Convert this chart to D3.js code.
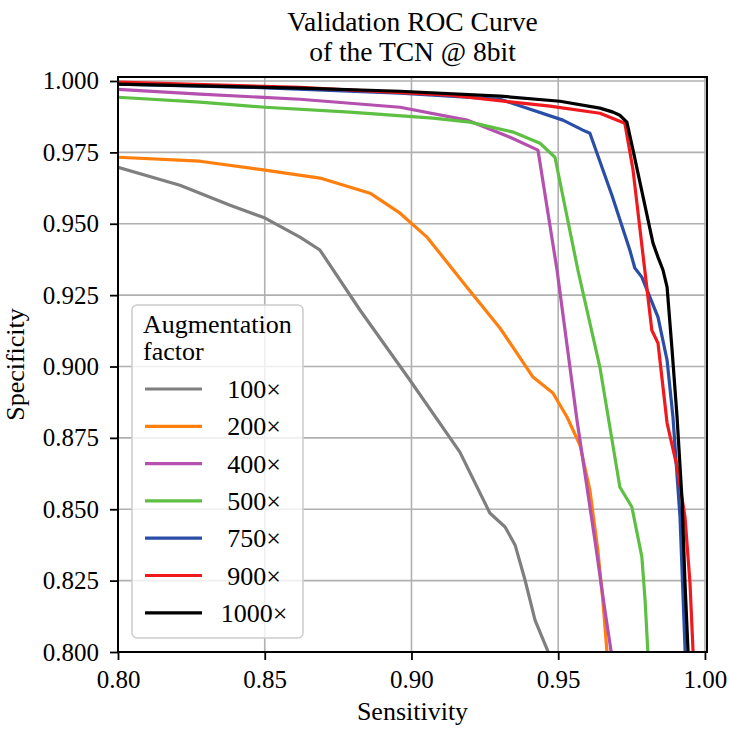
<!DOCTYPE html>
<html>
<head>
<meta charset="utf-8">
<script src="https://cdn.jsdelivr.net/npm/d3@7"></script>
<style>
  body { margin: 0; background: #fff; }
  svg text { font-family: "Liberation Serif", "Times New Roman", Times, serif !important; fill: #000; }
</style>
</head>
<body>
<svg width="729" height="732"></svg>
<script>
const width = 729,
      height = 732,
      margin = {top: 77, right: 22, bottom: 80, left: 118};

// tick positions
const xTicks = [0.80, 0.85, 0.90, 0.95, 1.00];
const yTicks = [0.800, 0.825, 0.850, 0.875, 0.900, 0.925, 0.950, 0.975, 1.000];

// legend names and colours
const factors = ['100×', '200×', '400×', '500×', '750×', '900×', '1000×'];
const colors  = ['#7f7f7f', '#ff7f0e', '#b450ae', '#5ec043', '#2a4ea6', '#f0191e', '#000000'];

// curve points [sensitivity, specificity]
const roc100 = [[0.800,0.9698],[0.8211,0.9635],[0.8382,0.9565],[0.8501,0.9520],[0.8620,0.9453],
  [0.8688,0.9408],[0.8825,0.9197],[0.8995,0.8952],[0.9165,0.8700],[0.9267,0.8487],[0.9319,0.8438],
  [0.9353,0.8375],[0.9387,0.8252],[0.9421,0.8112],[0.9470,0.7990]];
const roc200 = [[0.800,0.9733],[0.8279,0.9719],[0.8501,0.9688],[0.8688,0.9660],[0.8859,0.9607],
  [0.8961,0.9537],[0.9053,0.9453],[0.9189,0.9278],[0.9302,0.9134],[0.9414,0.8963],[0.9482,0.8907],
  [0.9530,0.8823],[0.9574,0.8725],[0.9608,0.8567],[0.9635,0.8357],[0.9652,0.8182],[0.9667,0.7990]];
const roc400 = [[0.800,0.9971],[0.8279,0.9954],[0.8620,0.9936],[0.8961,0.9908],[0.9189,0.9863],
  [0.9336,0.9803],[0.9431,0.9758],[0.9496,0.9338],[0.9564,0.8812],[0.9625,0.8392],[0.9659,0.8147],
  [0.9682,0.7990]];
const roc500 = [[0.800,0.9943],[0.8279,0.9926],[0.8501,0.9908],[0.8790,0.9891],[0.9073,0.9870],
  [0.9199,0.9856],[0.9346,0.9821],[0.9438,0.9782],[0.9489,0.9733],[0.9567,0.9338],[0.9642,0.8998],
  [0.9710,0.8578],[0.9751,0.8508],[0.9785,0.8333],[0.9796,0.8182],[0.9806,0.7990]];
const roc750 = [[0.800,0.9989],[0.8450,0.9978],[0.8961,0.9957],[0.9302,0.9936],[0.9516,0.9863],
  [0.9584,0.9828],[0.9608,0.9817],[0.9683,0.9600],[0.9744,0.9408],[0.9761,0.9345],[0.9785,0.9313],
  [0.9840,0.9173],[0.9871,0.9022],[0.9891,0.8823],[0.9915,0.8473],[0.9933,0.7990]];
const roc900 = [[0.800,0.9996],[0.8620,0.9978],[0.9131,0.9950],[0.9472,0.9912],[0.9642,0.9887],
  [0.9727,0.9852],[0.9755,0.9688],[0.9789,0.9390],[0.9819,0.9127],[0.9840,0.9082],[0.9871,0.8802],
  [0.9905,0.8648],[0.9932,0.8473],[0.9949,0.8242],[0.9960,0.7990]];
const roc1000 = [[0.800,0.9989],[0.8620,0.9975],[0.8961,0.9964],[0.9302,0.9947],[0.9506,0.9929],
  [0.9642,0.9905],[0.9687,0.9891],[0.9710,0.9880],[0.9734,0.9856],[0.9755,0.9758],[0.9823,0.9432],
  [0.9840,0.9383],[0.9857,0.9338],[0.9871,0.9278],[0.9888,0.9057],[0.9905,0.8823],[0.9922,0.8532],
  [0.9932,0.8242],[0.9943,0.7990]];

const curves = [roc100, roc200, roc400, roc500, roc750, roc900, roc1000];

const svg = d3.select('svg');

const x = d3.scaleLinear().domain([0.8, 1.0007]).range([margin.left, width - margin.right]);
const y = d3.scaleLinear().domain([0.8, 1.0014]).range([height - margin.bottom, margin.top]);

svg.append('clipPath').attr('id', 'plot')
  .append('rect')
  .attr('x', margin.left).attr('y', margin.top)
  .attr('width', width - margin.left - margin.right)
  .attr('height', height - margin.top - margin.bottom);

// grid
const grid = svg.append('g').attr('stroke', '#b0b0b0').attr('stroke-width', 1.6);
grid.selectAll('.gx').data(xTicks).enter().append('line')
  .attr('x1', d => x(d)).attr('x2', d => x(d))
  .attr('y1', margin.top).attr('y2', height - margin.bottom);
grid.selectAll('.gy').data(yTicks).enter().append('line')
  .attr('y1', d => y(d)).attr('y2', d => y(d))
  .attr('x1', margin.left).attr('x2', width - margin.right);

// curves
const line = d3.line().x(d => x(d[0])).y(d => y(d[1]));
svg.append('g').attr('clip-path', 'url(#plot)')
  .selectAll('path').data(curves).enter().append('path')
  .attr('fill', 'none')
  .attr('stroke', (d, i) => colors[i])
  .attr('stroke-width', 3.2)
  .attr('stroke-linejoin', 'round')
  .attr('d', line);

// axes
const xAxis = svg.append('g')
  .attr('transform', 'translate(0,' + (height - margin.bottom) + ')')
  .call(d3.axisBottom(x).tickValues(xTicks).tickFormat(d3.format('.2f')).tickSizeOuter(0).tickSize(8).tickPadding(10));
const yAxis = svg.append('g')
  .attr('transform', 'translate(' + margin.left + ',0)')
  .call(d3.axisLeft(y).tickValues(yTicks).tickFormat(d3.format('.3f')).tickSizeOuter(0).tickSize(8).tickPadding(11));

[xAxis, yAxis].forEach(a => {
  a.attr('font-family', null).attr('font-size', null);
  a.select('.domain').remove();
  a.selectAll('line').attr('stroke', '#000').attr('stroke-width', 1.8);
  a.selectAll('text').style('font-size', '25px');
});

// frame
svg.append('rect')
  .attr('x', margin.left).attr('y', margin.top)
  .attr('width', width - margin.left - margin.right)
  .attr('height', height - margin.top - margin.bottom)
  .attr('fill', 'none').attr('stroke', '#000').attr('stroke-width', 2);

// title and labels
const cx = (margin.left + width - margin.right) / 2;
svg.append('text').attr('x', cx).attr('y', 31)
  .attr('text-anchor', 'middle').style('font-size', '27.5px').text('Validation ROC Curve');
svg.append('text').attr('x', cx).attr('y', 61)
  .attr('text-anchor', 'middle').style('font-size', '27.5px').text('of the TCN @ 8bit');
svg.append('text').attr('x', cx).attr('y', 720)
  .attr('text-anchor', 'middle').style('font-size', '26px').text('Sensitivity');
svg.append('text')
  .attr('transform', 'translate(24,' + ((margin.top + height - margin.bottom) / 2) + ') rotate(-90)')
  .attr('text-anchor', 'middle').style('font-size', '26px').text('Specificity');

// legend
const lg = svg.append('g').attr('transform', 'translate(132,305)');
lg.append('rect')
  .attr('width', 171).attr('height', 333).attr('rx', 5)
  .attr('fill', '#fff').attr('fill-opacity', 0.8)
  .attr('stroke', '#cccccc').attr('stroke-width', 1.5);
lg.append('text').attr('x', 11).attr('y', 28).style('font-size', '26px').text('Augmentation');
lg.append('text').attr('x', 11).attr('y', 55).style('font-size', '26px').text('factor');
const items = lg.selectAll('.item').data(factors).enter().append('g')
  .attr('transform', (d, i) => 'translate(0,' + (84 + i * 37.3) + ')');
items.append('line')
  .attr('x1', 13).attr('x2', 70)
  .attr('stroke', (d, i) => colors[i]).attr('stroke-width', 3.2);
items.append('text')
  .attr('x', 122).attr('y', 9).attr('text-anchor', 'middle')
  .style('font-size', '26px').text(d => d);
</script>
</body>
</html>
